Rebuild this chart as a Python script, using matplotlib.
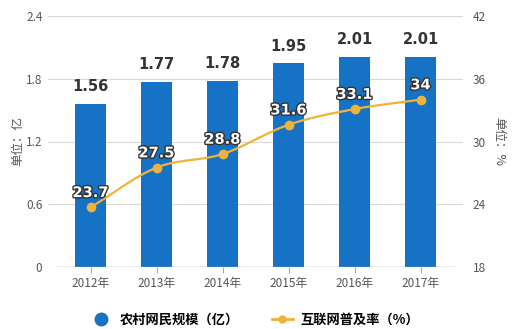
import numpy as np
import matplotlib
matplotlib.use("Agg")
import matplotlib.pyplot as plt
import matplotlib.patheffects as pe
from matplotlib.lines import Line2D

plt.rcParams['font.family'] = ['Noto Sans CJK SC', 'DejaVu Sans']

years = ["2012年", "2013年", "2014年", "2015年", "2016年", "2017年"]
users = [1.56, 1.77, 1.78, 1.95, 2.01, 2.01]       # 农村网民规模（亿）
rate = [23.7, 27.5, 28.8, 31.6, 33.1, 34]          # 互联网普及率（%）

bar_color = "#1672c4"
line_color = "#f0b23a"
tick_color = "#555555"


def catmull_rom(x, y, n=30):
    # smooth curve through the points for display
    x = np.asarray(x, float)
    y = np.asarray(y, float)
    px = np.concatenate([[2 * x[0] - x[1]], x, [2 * x[-1] - x[-2]]])
    py = np.concatenate([[2 * y[0] - y[1]], y, [2 * y[-1] - y[-2]]])
    xs, ys = [], []
    for i in range(1, len(px) - 2):
        t = np.linspace(0, 1, n)
        for p, out in ((px, xs), (py, ys)):
            p0, p1, p2, p3 = p[i - 1], p[i], p[i + 1], p[i + 2]
            out.append(0.5 * (2 * p1 + (-p0 + p2) * t
                              + (2 * p0 - 5 * p1 + 4 * p2 - p3) * t ** 2
                              + (-p0 + 3 * p1 - 3 * p2 + p3) * t ** 3))
    return np.concatenate(xs), np.concatenate(ys)


W, H = 515, 329
fig = plt.figure(figsize=(W / 100, H / 100), dpi=100)
ax = fig.add_axes([48 / W, 1 - 267 / H, (463 - 48) / W, (267 - 16) / H])

x = np.arange(len(years))
step = 66.0
ax.set_xlim((48 - 90.5) / step, (463 - 90.5) / step)
ax.set_ylim(0, 2.4)

ax.bar(x, users, width=31 / step, color=bar_color, zorder=2)
for xi, v in zip(x, users):
    ax.text(xi, v + 0.09, f"{v:.2f}", ha="center", va="bottom",
            fontsize=10.5, fontweight="semibold", color="#333333", family="DejaVu Sans")

ax.set_yticks([0, 0.6, 1.2, 1.8, 2.4])
ax.set_yticklabels(["0", "0.6", "1.2", "1.8", "2.4"])
ax.grid(axis="y", color="#d9d9d9", linewidth=0.8, zorder=0)
for s in ax.spines.values():
    s.set_visible(False)
ax.axhline(0, xmin=(57 - 48) / (463 - 48), xmax=(454 - 48) / (463 - 48),
           color="#aaaaaa", linewidth=1, zorder=3)
ax.set_xticks(x)
ax.set_xticklabels(years)
ax.tick_params(axis="x", length=4, color="#aaaaaa", colors=tick_color, labelsize=8.5, pad=3)
ax.tick_params(axis="y", length=0, colors=tick_color, labelsize=8.5, pad=4)
ax.set_ylabel("单位：亿", color=tick_color, fontsize=9, labelpad=1)

ax2 = ax.twinx()
ax2.set_ylim(18, 42)
ax2.set_yticks([18, 24, 30, 36, 42])
for s in ax2.spines.values():
    s.set_visible(False)
ax2.tick_params(axis="y", length=0, colors=tick_color, labelsize=8.5, pad=7)
ax2.set_ylabel("单位：%", color=tick_color, fontsize=9, rotation=-90, labelpad=14)

sx, sy = catmull_rom(x, rate)
ax2.plot(sx, sy, color=line_color, linewidth=1.6, zorder=4)
ax2.plot(x, rate, "o", color=line_color, markersize=6, zorder=5)
for xi, v in zip(x, rate):
    ax2.text(xi, v + 0.7, f"{v:g}", ha="center", va="bottom", fontsize=10.5,
             fontweight="bold", color="white", family="DejaVu Sans", zorder=6,
             path_effects=[pe.withStroke(linewidth=2, foreground="#333333")])

handles = [
    Line2D([], [], marker="o", linestyle="none", color=bar_color, markersize=9),
    Line2D([], [], marker="o", color=line_color, markersize=5, linewidth=2),
]
fig.legend(handles, ["农村网民规模（亿）", "互联网普及率（%）"],
           loc="center", bbox_to_anchor=(255 / W, 1 - 320 / H), ncol=2,
           frameon=False, handlelength=1.6, handletextpad=0.6, columnspacing=2.5,
           prop={"weight": "bold", "size": 9.5})

fig.savefig("out.png", dpi=100)
